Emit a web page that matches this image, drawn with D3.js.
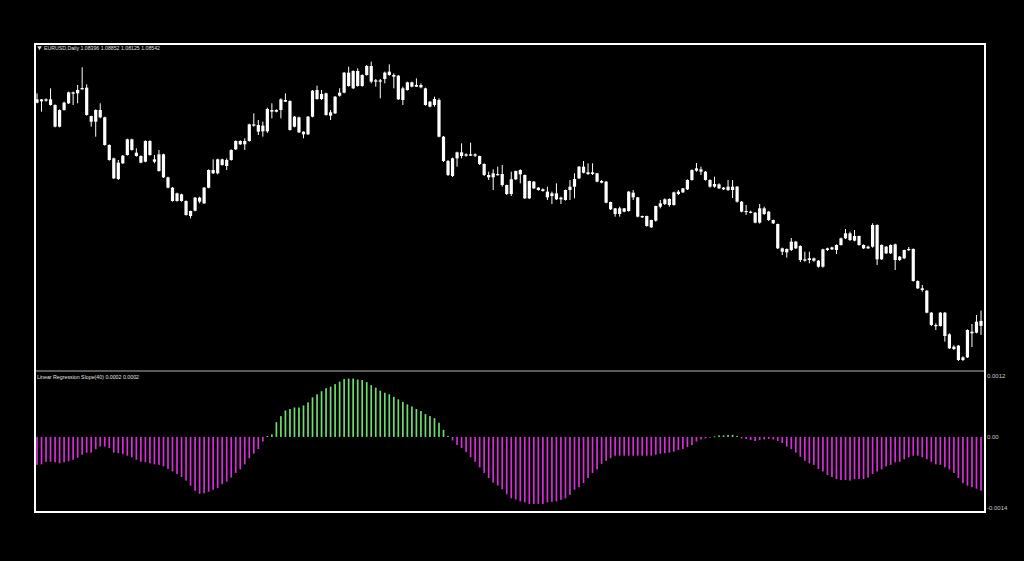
<!DOCTYPE html>
<html><head><meta charset="utf-8">
<script src="https://cdn.jsdelivr.net/npm/d3@7"></script>
<style>html,body{margin:0;padding:0;background:#000;}svg{display:block}</style>
</head><body>
<svg id="c" width="1024" height="561"></svg>
<script>
// ---------- data ----------
const symbolName = "EURUSD,Daily";
const lastQuote = ["1.08396", "1.08852", "1.08125", "1.08542"];
const indicatorName = "Linear Regression Slope(40)";
const indicatorReadout = ["0.0002", "0.0002"];
const slopeTickValues = [0.0012, 0, -0.0014];
const slopeTickLabels = ["0.0012", "0.00", "-0.0014"];

const open = [1.1519,1.1513,1.1515,1.1519,1.1502,1.1487,1.1487,1.1507,1.1536,1.1537,
1.1549,1.1554,1.1469,1.1452,1.1465,1.1465,1.1382,1.1342,1.1329,1.1327,
1.1352,1.1367,1.1359,1.1349,1.1332,1.1352,1.1339,1.1354,1.1354,1.1285,
1.1254,1.1237,1.1234,1.1214,1.1184,1.1185,1.1212,1.1207,1.1254,1.1297,
1.1297,1.1322,1.1337,1.1337,1.1369,1.1384,1.1394,1.1394,1.1440,1.1442,
1.1423,1.1423,1.1482,1.1487,1.1487,1.1512,1.1514,1.1467,1.1465,1.1422,
1.1414,1.1467,1.1520,1.1535,1.1537,1.1480,1.1477,1.1530,1.1539,1.1559,
1.1604,1.1559,1.1592,1.1592,1.1619,1.1576,1.1572,1.1580,1.1592,1.1592,
1.1590,1.1552,1.1547,1.1557,1.1562,1.1562,1.1552,1.1512,1.1502,1.1517,
1.1407,1.1334,1.1289,1.1342,1.1349,1.1354,1.1350,1.1354,1.1349,1.1325,
1.1292,1.1285,1.1292,1.1295,1.1262,1.1235,1.1279,1.1294,1.1292,1.1222,
1.1272,1.1254,1.1249,1.1242,1.1229,1.1237,1.1224,1.1217,1.1247,1.1257,
1.1282,1.1317,1.1300,1.1295,1.1297,1.1274,1.1272,1.1211,1.1192,1.1175,
1.1192,1.1184,1.1225,1.1225,1.1169,1.1169,1.1157,1.1155,1.1197,1.1205,
1.1220,1.1202,1.1235,1.1240,1.1249,1.1277,1.1305,1.1309,1.1302,1.1277,
1.1265,1.1252,1.1254,1.1247,1.1257,1.1257,1.1212,1.1184,1.1182,1.1179,
1.1149,1.1192,1.1182,1.1157,1.1145,1.1072,1.1060,1.1067,1.1092,1.1079,
1.1035,1.1037,1.1042,1.1035,1.1017,1.1067,1.1069,1.1067,1.1082,1.1102,
1.1117,1.1095,1.1109,1.1082,1.1072,1.1077,1.1142,1.1039,1.1077,1.1057,
1.1084,1.1037,1.1042,1.1067,1.1070,1.0974,1.0952,1.0945,1.0879,1.0842,
1.0839,1.0879,1.0814,1.0777,1.0780,1.0737,1.0745,1.0822,1.0819,1.08396];

const high = [1.1537,1.1520,1.1522,1.1552,1.1504,1.1489,1.1512,1.1542,1.1542,1.1562,
1.1615,1.1564,1.1470,1.1489,1.1507,1.1467,1.1384,1.1344,1.1337,1.1352,
1.1401,1.1401,1.1372,1.1351,1.1396,1.1396,1.1352,1.1367,1.1356,1.1287,
1.1256,1.1239,1.1236,1.1216,1.1185,1.1226,1.1227,1.1256,1.1309,1.1339,
1.1341,1.1341,1.1342,1.1369,1.1396,1.1396,1.1402,1.1446,1.1477,1.1457,
1.1452,1.1494,1.1507,1.1489,1.1522,1.1537,1.1516,1.1469,1.1467,1.1423,
1.1469,1.1547,1.1560,1.1547,1.1539,1.1487,1.1529,1.1552,1.1601,1.1617,
1.1606,1.1612,1.1594,1.1622,1.1632,1.1580,1.1580,1.1602,1.1624,1.1597,
1.1592,1.1557,1.1572,1.1572,1.1582,1.1567,1.1554,1.1514,1.1527,1.1522,
1.1409,1.1337,1.1344,1.1362,1.1387,1.1357,1.1389,1.1357,1.1350,1.1327,
1.1302,1.1309,1.1317,1.1322,1.1263,1.1302,1.1305,1.1309,1.1293,1.1275,
1.1274,1.1256,1.1252,1.1257,1.1242,1.1267,1.1227,1.1248,1.1277,1.1297,
1.1319,1.1334,1.1327,1.1327,1.1298,1.1277,1.1274,1.1212,1.1193,1.1197,
1.1193,1.1244,1.1247,1.1226,1.1170,1.1170,1.1158,1.1200,1.1217,1.1222,
1.1222,1.1242,1.1247,1.1253,1.1279,1.1309,1.1328,1.1317,1.1304,1.1279,
1.1287,1.1267,1.1256,1.1277,1.1277,1.1259,1.1214,1.1202,1.1185,1.1181,
1.1205,1.1197,1.1184,1.1158,1.1146,1.1074,1.1072,1.1103,1.1094,1.1081,
1.1062,1.1062,1.1044,1.1037,1.1071,1.1074,1.1077,1.1084,1.1104,1.1130,
1.1122,1.1127,1.1110,1.1084,1.1080,1.1147,1.1144,1.1084,1.1079,1.1084,
1.1086,1.1049,1.1068,1.1076,1.1072,1.0976,1.0962,1.0947,1.0881,1.0847,
1.0881,1.0881,1.0817,1.0781,1.0782,1.0748,1.0829,1.0845,1.0872,1.08852];

const low = [1.1507,1.1482,1.1512,1.1500,1.1435,1.1435,1.1485,1.1505,1.1502,1.1507,
1.1548,1.1470,1.1437,1.1407,1.1462,1.1380,1.1335,1.1280,1.1277,1.1325,
1.1350,1.1365,1.1347,1.1327,1.1330,1.1350,1.1327,1.1302,1.1283,1.1252,
1.1212,1.1212,1.1212,1.1170,1.1162,1.1183,1.1207,1.1205,1.1252,1.1295,
1.1294,1.1320,1.1307,1.1335,1.1367,1.1382,1.1367,1.1392,1.1437,1.1412,
1.1407,1.1418,1.1462,1.1480,1.1462,1.1511,1.1425,1.1435,1.1418,1.1402,
1.1412,1.1465,1.1518,1.1517,1.1470,1.1457,1.1475,1.1527,1.1537,1.1557,
1.1550,1.1557,1.1557,1.1590,1.1567,1.1557,1.1522,1.1567,1.1590,1.1552,
1.1517,1.1502,1.1545,1.1555,1.1556,1.1552,1.1500,1.1495,1.1497,1.1405,
1.1331,1.1289,1.1286,1.1317,1.1342,1.1347,1.1349,1.1346,1.1322,1.1289,
1.1277,1.1247,1.1290,1.1257,1.1232,1.1229,1.1277,1.1267,1.1220,1.1220,
1.1250,1.1245,1.1242,1.1217,1.1205,1.1217,1.1205,1.1215,1.1217,1.1222,
1.1280,1.1297,1.1292,1.1292,1.1270,1.1267,1.1207,1.1187,1.1167,1.1167,
1.1180,1.1182,1.1217,1.1165,1.1163,1.1137,1.1133,1.1152,1.1192,1.1202,
1.1197,1.1200,1.1232,1.1238,1.1247,1.1275,1.1302,1.1292,1.1275,1.1254,
1.1254,1.1250,1.1247,1.1244,1.1223,1.1209,1.1180,1.1172,1.1177,1.1147,
1.1146,1.1172,1.1154,1.1145,1.1070,1.1052,1.1044,1.1064,1.1070,1.1031,
1.1032,1.1027,1.1032,1.1014,1.1014,1.1064,1.1067,1.1055,1.1080,1.1100,
1.1094,1.1093,1.1080,1.1070,1.1070,1.1074,1.1022,1.1037,1.1055,1.1055,
1.1007,1.1034,1.1040,1.1064,1.0972,1.0950,1.0942,1.0877,1.0839,1.0827,
1.0837,1.0792,1.0770,1.0767,1.0734,1.0734,1.0743,1.0776,1.0817,1.08125];

const close = [1.1509,1.1519,1.1519,1.1502,1.1437,1.1437,1.1509,1.1540,1.1540,1.1547,
1.1553,1.1472,1.1452,1.1487,1.1487,1.1382,1.1337,1.1282,1.1280,1.1350,
1.1399,1.1399,1.1349,1.1329,1.1394,1.1394,1.1332,1.1304,1.1285,1.1254,
1.1214,1.1214,1.1214,1.1172,1.1169,1.1224,1.1224,1.1254,1.1307,1.1307,
1.1339,1.1339,1.1319,1.1367,1.1394,1.1394,1.1384,1.1444,1.1444,1.1422,
1.1440,1.1490,1.1487,1.1482,1.1519,1.1517,1.1427,1.1437,1.1420,1.1414,
1.1467,1.1545,1.1547,1.1520,1.1472,1.1470,1.1527,1.1539,1.1599,1.1599,
1.1552,1.1604,1.1559,1.1619,1.1572,1.1572,1.1576,1.1599,1.1602,1.1587,
1.1519,1.1517,1.1570,1.1570,1.1557,1.1555,1.1502,1.1497,1.1520,1.1407,
1.1334,1.1292,1.1342,1.1360,1.1360,1.1350,1.1354,1.1350,1.1325,1.1292,
1.1285,1.1297,1.1295,1.1262,1.1235,1.1279,1.1304,1.1307,1.1222,1.1274,
1.1252,1.1247,1.1244,1.1225,1.1237,1.1219,1.1219,1.1247,1.1257,1.1280,
1.1317,1.1299,1.1295,1.1300,1.1272,1.1269,1.1209,1.1189,1.1175,1.1192,
1.1182,1.1242,1.1239,1.1167,1.1165,1.1139,1.1135,1.1199,1.1207,1.1219,
1.1202,1.1240,1.1242,1.1252,1.1277,1.1307,1.1312,1.1302,1.1277,1.1257,
1.1257,1.1264,1.1249,1.1257,1.1247,1.1212,1.1182,1.1181,1.1180,1.1149,
1.1192,1.1175,1.1157,1.1147,1.1072,1.1062,1.1070,1.1092,1.1072,1.1037,
1.1039,1.1042,1.1035,1.1017,1.1069,1.1072,1.1075,1.1082,1.1102,1.1117,
1.1097,1.1109,1.1082,1.1072,1.1077,1.1142,1.1039,1.1082,1.1057,1.1082,
1.1037,1.1047,1.1067,1.1070,1.0974,1.0952,1.0947,1.0879,1.0842,1.0839,
1.0879,1.0809,1.0772,1.0770,1.0737,1.0745,1.0827,1.0817,1.0852,1.08542];

// Linear regression slope (40), price per bar
const slope = [-0.00055,-0.00054,-0.00049,-0.00049,-0.00050,-0.00052,-0.00050,-0.00048,-0.00045,-0.00041,
-0.00035,-0.00031,-0.00031,-0.00024,-0.00019,-0.00019,-0.00022,-0.00031,-0.00032,-0.00034,
-0.00037,-0.00040,-0.00045,-0.00049,-0.00050,-0.00052,-0.00054,-0.00055,-0.00058,-0.00063,
-0.00068,-0.00073,-0.00079,-0.00086,-0.00096,-0.00106,-0.00112,-0.00111,-0.00108,-0.00104,
-0.00101,-0.00093,-0.00088,-0.00080,-0.00071,-0.00064,-0.00054,-0.00042,-0.00033,-0.00024,
-0.00009,0.00002,0.00005,0.00029,0.00041,0.00052,0.00055,0.00058,0.00058,0.00062,
0.00068,0.00078,0.00084,0.00090,0.00096,0.00099,0.00104,0.00109,0.00114,0.00115,
0.00115,0.00113,0.00112,0.00108,0.00102,0.00097,0.00091,0.00087,0.00084,0.00079,
0.00074,0.00069,0.00064,0.00060,0.00055,0.00051,0.00045,0.00041,0.00037,0.00028,
0.00014,0.00002,-0.00007,-0.00016,-0.00022,-0.00030,-0.00040,-0.00049,-0.00060,-0.00071,
-0.00081,-0.00090,-0.00096,-0.00103,-0.00113,-0.00121,-0.00123,-0.00127,-0.00129,-0.00132,
-0.00132,-0.00132,-0.00132,-0.00129,-0.00128,-0.00127,-0.00124,-0.00121,-0.00114,-0.00104,
-0.00099,-0.00091,-0.00081,-0.00071,-0.00064,-0.00053,-0.00047,-0.00042,-0.00037,-0.00037,
-0.00037,-0.00037,-0.00037,-0.00037,-0.00037,-0.00037,-0.00037,-0.00035,-0.00033,-0.00032,
-0.00031,-0.00029,-0.00026,-0.00024,-0.00020,-0.00016,-0.00009,-0.00005,-0.00003,-0.00001,
0.00001,0.00003,0.00003,0.00004,0.00004,0.00002,-0.00003,-0.00004,-0.00006,-0.00008,
-0.00006,-0.00005,-0.00004,-0.00005,-0.00008,-0.00012,-0.00019,-0.00024,-0.00031,-0.00039,
-0.00047,-0.00052,-0.00055,-0.00063,-0.00068,-0.00075,-0.00079,-0.00083,-0.00085,-0.00085,
-0.00086,-0.00083,-0.00083,-0.00083,-0.00080,-0.00073,-0.00068,-0.00064,-0.00058,-0.00055,
-0.00050,-0.00049,-0.00044,-0.00040,-0.00037,-0.00037,-0.00040,-0.00044,-0.00049,-0.00054,
-0.00055,-0.00060,-0.00064,-0.00071,-0.00081,-0.00091,-0.00096,-0.00099,-0.00102,-0.00106];

// ---------- layout ----------
const W = 1024, H = 561;
const frame = {x0: 35, y0: 44, x1: 985, y1: 512};
const sepY = 371;
const bull = "#ffffff", upColor = "#6fdc6f", downColor = "#d42fd4";
const svg = d3.select("#c");
svg.append("rect").attr("width", W).attr("height", H).attr("fill", "#000");

const idx = d3.range(close.length);
const x = d3.scaleLinear().domain([0, close.length - 1]).range([37, 981]);
const y = d3.scaleLinear().domain([1.0737, 1.1637]).range([360, 60]);
const yS = d3.scaleLinear().domain([-0.0014, 0.0012]).range([508, 376]);

// candles
const cg = svg.append("g");
cg.selectAll("line.w").data(idx).join("line")
  .attr("x1", i => x(i)).attr("x2", i => x(i))
  .attr("y1", i => y(high[i])).attr("y2", i => y(low[i]))
  .attr("stroke", bull).attr("stroke-width", 1);
cg.selectAll("rect.b").data(idx).join("rect")
  .attr("x", i => x(i) - 1.6).attr("width", 3.2)
  .attr("y", i => y(Math.max(open[i], close[i])))
  .attr("height", i => Math.max(1.2, y(Math.min(open[i], close[i])) - y(Math.max(open[i], close[i]))))
  .attr("fill", bull);

// slope histogram
const sg = svg.append("g");
sg.selectAll("rect").data(idx).join("rect")
  .attr("x", i => x(i) - 0.85).attr("width", 1.7)
  .attr("y", i => Math.min(yS(0), yS(slope[i])))
  .attr("height", i => Math.max(0.8, Math.abs(yS(slope[i]) - yS(0))))
  .attr("fill", i => slope[i] > 0 ? upColor : downColor);

// frame & separator
svg.append("line").attr("x1", frame.x0).attr("x2", frame.x1).attr("y1", sepY).attr("y2", sepY)
  .attr("stroke", "#b4b4b4").attr("stroke-width", 1);
svg.append("rect").attr("x", frame.x0).attr("y", frame.y0)
  .attr("width", frame.x1 - frame.x0).attr("height", frame.y1 - frame.y0)
  .attr("fill", "none").attr("stroke", "#ffffff").attr("stroke-width", 2);

// right axis for indicator
const ax = svg.append("g").attr("transform", `translate(${frame.x1},0)`)
  .call(d3.axisRight(yS).tickValues(slopeTickValues)
    .tickFormat((d, i) => slopeTickLabels[i]).tickSize(0).tickPadding(2));
ax.select(".domain").remove();
ax.selectAll("line").remove();
ax.selectAll("text").attr("fill", "#c8c8c8").attr("font-size", 6)
  .attr("font-family", "Liberation Sans, Arial, sans-serif");

// labels
svg.append("path").attr("d", d3.symbol(d3.symbolTriangle, 9)())
  .attr("transform", "translate(39.5,47.5) rotate(180)").attr("fill", "#e0e0e0");
svg.append("text").attr("x", 44).attr("y", 50)
  .attr("fill", "#e0e0e0").attr("font-size", 6)
  .attr("font-family", "Liberation Sans, Arial, sans-serif")
  .attr("textLength", 116).attr("lengthAdjust", "spacingAndGlyphs")
  .text(symbolName + "  " + lastQuote.join(" "));
svg.append("text").attr("x", 37).attr("y", 378.5)
  .attr("fill", "#e0e0e0").attr("font-size", 6)
  .attr("font-family", "Liberation Sans, Arial, sans-serif")
  .attr("textLength", 102).attr("lengthAdjust", "spacingAndGlyphs")
  .text(indicatorName + " " + indicatorReadout.join(" "));
</script>
</body></html>
